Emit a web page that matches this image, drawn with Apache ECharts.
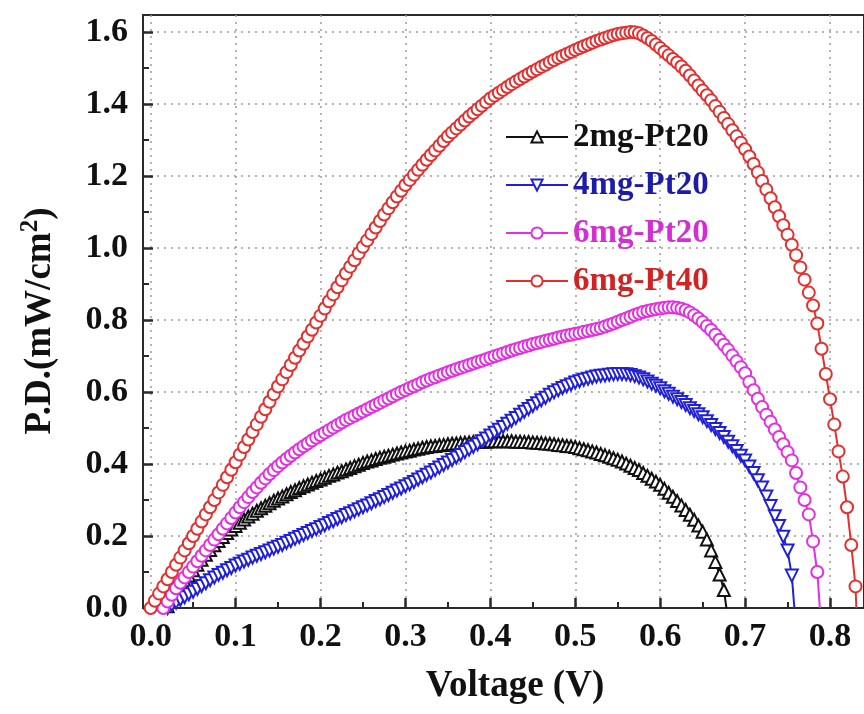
<!DOCTYPE html>
<html><head><meta charset="utf-8">
<script src="https://cdn.jsdelivr.net/npm/echarts@6/dist/echarts.min.js"></script>
<style>html,body{margin:0;padding:0;background:#fff}#c{width:864px;height:714px}</style>
</head><body><div id="c"></div>
<script>
// Voltage grid (V)
const voltage = [
0.000,0.005,0.010,0.015,0.020,0.025,0.030,0.035,0.040,0.045,
0.050,0.055,0.060,0.065,0.070,0.075,0.080,0.085,0.090,0.095,
0.100,0.105,0.110,0.115,0.120,0.125,0.130,0.135,0.140,0.145,
0.150,0.155,0.160,0.165,0.170,0.175,0.180,0.185,0.190,0.195,
0.200,0.205,0.210,0.215,0.220,0.225,0.230,0.235,0.240,0.245,
0.250,0.255,0.260,0.265,0.270,0.275,0.280,0.285,0.290,0.295,
0.300,0.305,0.310,0.315,0.320,0.325,0.330,0.335,0.340,0.345,
0.350,0.355,0.360,0.365,0.370,0.375,0.380,0.385,0.390,0.395,
0.400,0.405,0.410,0.415,0.420,0.425,0.430,0.435,0.440,0.445,
0.450,0.455,0.460,0.465,0.470,0.475,0.480,0.485,0.490,0.495,
0.500,0.505,0.510,0.515,0.520,0.525,0.530,0.535,0.540,0.545,
0.550,0.555,0.560,0.565,0.570,0.575,0.580,0.585,0.590,0.595,
0.600,0.605,0.610,0.615,0.620,0.625,0.630,0.635,0.640,0.645,
0.650,0.655,0.660,0.665,0.670,0.675,0.680,0.685,0.690,0.695,
0.700,0.705,0.710,0.715,0.720,0.725,0.730,0.735,0.740,0.745,
0.750,0.755,0.760,0.765,0.770,0.775,0.780,0.785,0.790,0.795,
0.800,0.805,0.810,0.815,0.820,0.825,0.830];

// Power density (mW/cm2), aligned with voltage
const pd2mgPt20 = [
null,null,null,null,0.005,0.027,0.045,0.060,0.075,0.090,
0.105,0.120,0.134,0.148,0.161,0.174,0.186,0.197,0.208,0.218,
0.228,0.237,0.246,0.254,0.262,0.270,0.277,0.284,0.291,0.298,
0.304,0.310,0.316,0.322,0.327,0.333,0.338,0.343,0.348,0.353,
0.357,0.362,0.367,0.371,0.376,0.380,0.385,0.389,0.394,0.398,
0.403,0.407,0.410,0.414,0.417,0.420,0.423,0.426,0.429,0.432,
0.435,0.437,0.440,0.442,0.445,0.447,0.449,0.450,0.452,0.453,
0.455,0.456,0.457,0.458,0.459,0.460,0.461,0.461,0.462,0.462,
0.463,0.463,0.463,0.463,0.463,0.463,0.462,0.462,0.461,0.461,
0.460,0.459,0.458,0.457,0.456,0.455,0.453,0.452,0.450,0.449,
0.447,0.444,0.441,0.438,0.435,0.432,0.428,0.424,0.420,0.416,
0.412,0.407,0.401,0.395,0.389,0.383,0.375,0.367,0.359,0.351,
0.342,0.331,0.320,0.309,0.297,0.285,0.272,0.259,0.245,0.229,
0.212,0.190,0.160,0.128,0.093,0.050];

const pd4mgPt20 = [
null,null,null,null,0.000,0.008,0.015,0.023,0.030,0.038,
0.045,0.053,0.061,0.069,0.077,0.085,0.092,0.098,0.105,0.111,
0.118,0.123,0.129,0.134,0.140,0.145,0.150,0.155,0.160,0.165,
0.170,0.175,0.181,0.186,0.192,0.197,0.203,0.208,0.214,0.219,
0.225,0.230,0.236,0.241,0.247,0.252,0.258,0.263,0.269,0.274,
0.280,0.285,0.291,0.297,0.302,0.308,0.314,0.320,0.326,0.332,
0.338,0.344,0.350,0.357,0.363,0.370,0.376,0.383,0.390,0.397,
0.404,0.411,0.418,0.425,0.433,0.440,0.448,0.455,0.463,0.471,
0.479,0.487,0.495,0.503,0.512,0.520,0.528,0.537,0.545,0.553,
0.561,0.569,0.577,0.584,0.592,0.599,0.605,0.611,0.616,0.621,
0.626,0.630,0.634,0.637,0.640,0.643,0.645,0.646,0.648,0.649,
0.650,0.650,0.649,0.647,0.644,0.640,0.635,0.629,0.623,0.617,
0.610,0.602,0.595,0.587,0.580,0.572,0.564,0.555,0.547,0.538,
0.530,0.519,0.508,0.497,0.486,0.475,0.462,0.449,0.436,0.423,
0.410,0.393,0.375,0.355,0.335,0.310,0.283,0.255,0.228,0.198,
0.160,0.090];

const pd6mgPt20 = [
null,null,null,0.000,0.018,0.037,0.055,0.070,0.085,0.100,
0.115,0.130,0.145,0.160,0.175,0.190,0.205,0.220,0.235,0.250,
0.265,0.280,0.294,0.308,0.322,0.335,0.348,0.360,0.372,0.383,
0.394,0.404,0.414,0.423,0.432,0.441,0.449,0.457,0.465,0.473,
0.480,0.487,0.494,0.501,0.508,0.515,0.522,0.528,0.534,0.540,
0.546,0.552,0.558,0.564,0.570,0.576,0.582,0.588,0.594,0.600,
0.605,0.611,0.616,0.621,0.627,0.632,0.637,0.641,0.646,0.650,
0.655,0.659,0.663,0.667,0.671,0.675,0.679,0.683,0.687,0.691,
0.695,0.699,0.703,0.707,0.711,0.715,0.719,0.722,0.726,0.729,
0.733,0.736,0.739,0.742,0.745,0.748,0.751,0.754,0.757,0.759,
0.762,0.764,0.767,0.769,0.772,0.775,0.778,0.782,0.786,0.790,
0.795,0.800,0.804,0.809,0.814,0.818,0.822,0.825,0.828,0.830,
0.832,0.834,0.835,0.835,0.834,0.831,0.827,0.821,0.813,0.804,
0.794,0.783,0.772,0.759,0.745,0.731,0.717,0.701,0.685,0.669,
0.652,0.628,0.605,0.581,0.558,0.537,0.517,0.496,0.475,0.455,
0.433,0.410,0.375,0.335,0.300,0.260,0.185,0.100];

const pd6mgPt40 = [
0.000,0.020,0.040,0.060,0.080,0.100,0.120,0.140,0.160,0.180,
0.200,0.220,0.240,0.260,0.280,0.300,0.321,0.342,0.363,0.384,
0.405,0.426,0.447,0.468,0.489,0.510,0.531,0.552,0.573,0.594,
0.615,0.635,0.655,0.675,0.695,0.715,0.734,0.754,0.773,0.793,
0.812,0.832,0.852,0.871,0.891,0.910,0.929,0.948,0.966,0.985,
1.003,1.021,1.039,1.057,1.075,1.093,1.110,1.127,1.143,1.159,
1.175,1.189,1.203,1.217,1.231,1.245,1.258,1.271,1.284,1.297,
1.310,1.321,1.332,1.343,1.354,1.365,1.375,1.385,1.395,1.405,
1.415,1.423,1.431,1.439,1.447,1.455,1.462,1.469,1.476,1.483,
1.490,1.496,1.503,1.509,1.516,1.522,1.528,1.533,1.539,1.544,
1.550,1.555,1.560,1.565,1.570,1.575,1.579,1.583,1.587,1.591,
1.594,1.596,1.598,1.600,1.599,1.596,1.590,1.583,1.575,1.565,
1.555,1.545,1.535,1.525,1.515,1.504,1.492,1.479,1.465,1.451,
1.437,1.424,1.410,1.394,1.378,1.361,1.344,1.327,1.310,1.292,
1.274,1.254,1.233,1.210,1.186,1.162,1.138,1.113,1.088,1.063,
1.037,1.009,0.980,0.946,0.912,0.876,0.840,0.790,0.720,0.650,
0.580,0.510,0.435,0.365,0.280,0.175,0.060];

const seriesNames = ['2mg-Pt20','4mg-Pt20','6mg-Pt20','6mg-Pt40'];
const openCircuitV = [0.678, 0.758, 0.788, 0.831];
const xTickValues = [0.0,0.1,0.2,0.3,0.4,0.5,0.6,0.7,0.8];
const xMinorValues = [0.05,0.15,0.25,0.35,0.45,0.55,0.65,0.75];
const yTickValues = [0.0,0.2,0.4,0.6,0.8,1.0,1.2,1.4,1.6];
const yMinorValues = [0.1,0.3,0.5,0.7,0.9,1.1,1.3,1.5];

const allPD = [pd2mgPt20, pd4mgPt20, pd6mgPt20, pd6mgPt40];
const lineColors = ['#111111','#2020d8','#e22fe2','#e42f2f'];
const legendTextColors = ['#111111','#1c1ca8','#d22ed2','#d02424'];
const symbols = ['emptyTriangle','emptyTriangle','emptyCircle','emptyCircle'];
const rotations = [0,180,0,0];

const FONT = '"Liberation Serif","Times New Roman",serif';
const GRID = {left:143, top:15, right:-3, bottom:106};

function buildData(pd, voc) {
  const d = [];
  pd.forEach((p,i)=>{ if (p !== null) d.push([voltage[i], p]); });
  d.push({value:[voc, 0], symbol:'none'});
  return d;
}

const chart = echarts.init(document.getElementById('c'), null, {renderer:'canvas'});
const labelStyle = {fontFamily:FONT, fontSize:34, fontWeight:'bold', color:'#111'};
const axisCol = '#2a2a2a';

chart.setOption({
  animation:false,
  backgroundColor:'#ffffff',
  grid:[
    Object.assign({show:true, borderColor:axisCol, borderWidth:2, backgroundColor:'transparent'}, GRID),
    Object.assign({show:false}, GRID)
  ],
  xAxis:[
    {type:'value', gridIndex:0, min:-0.009, max:0.84,
     axisLine:{show:true, onZero:false, lineStyle:{color:axisCol, width:2}},
     axisTick:{show:true, inside:true, length:10, customValues:xTickValues, lineStyle:{color:axisCol, width:2.5}},
     axisLabel:Object.assign({show:true, margin:12, customValues:xTickValues, formatter:v=>v.toFixed(1)}, labelStyle),
     splitLine:{show:true, lineStyle:{color:'#9a9a9a', width:1.5, type:[2,5]}},
     minorTick:{show:false}},
    {type:'value', gridIndex:1, min:-0.009, max:0.84,
     axisLine:{show:false, onZero:false},
     axisTick:{show:true, inside:true, length:6, customValues:xMinorValues, lineStyle:{color:axisCol, width:2}},
     axisLabel:{show:false}, splitLine:{show:false}}
  ],
  yAxis:[
    {type:'value', gridIndex:0, min:0, max:1.647,
     axisLine:{show:true, onZero:false, lineStyle:{color:axisCol, width:2}},
     axisTick:{show:true, inside:true, length:10, customValues:yTickValues, lineStyle:{color:axisCol, width:2.5}},
     axisLabel:Object.assign({show:true, margin:15, customValues:yTickValues, formatter:v=>v.toFixed(1)}, labelStyle),
     splitLine:{show:true, lineStyle:{color:'#9a9a9a', width:1.5, type:[2,5]}}},
    {type:'value', gridIndex:1, min:0, max:1.647,
     axisLine:{show:false, onZero:false},
     axisTick:{show:true, inside:true, length:6, customValues:yMinorValues, lineStyle:{color:axisCol, width:2}},
     axisLabel:{show:false}, splitLine:{show:false}}
  ],
  legend:{
    orient:'vertical', left:500, top:115, itemWidth:62, itemHeight:14, itemGap:14,
    selectedMode:false,
    textStyle:{fontFamily:FONT, fontSize:33, fontWeight:'bold', lineHeight:34},
    data: seriesNames.map((n,i)=>({name:n, textStyle:{color:legendTextColors[i]}}))
  },
  graphic:[
    {type:'text', x:515, y:686, style:{text:'Voltage (V)', fontFamily:FONT, fontSize:37, fontWeight:'bold', fill:'#111', textAlign:'center', textVerticalAlign:'middle'}},
    {type:'text', x:40, y:321, rotation:Math.PI/2,
     style:{text:'P.D.(mW/cm{s|2})', fontFamily:FONT, fontSize:37, fontWeight:'bold', fill:'#111', textAlign:'center', textVerticalAlign:'middle',
       rich:{s:{fontFamily:FONT, fontSize:25, fontWeight:'bold', fill:'#111', padding:[0,0,18,0]}}}}
  ],
  series: seriesNames.map((n,i)=>({
    type:'line', name:n, xAxisIndex:0, yAxisIndex:0,
    data: buildData(allPD[i], openCircuitV[i]),
    symbol:symbols[i], symbolSize:12, symbolRotate:rotations[i],
    showSymbol:true, showAllSymbol:true,
    lineStyle:{color:lineColors[i], width:2},
    itemStyle:{color:lineColors[i], borderWidth:1.8},
    z:2+i
  }))
});
</script></body></html>
